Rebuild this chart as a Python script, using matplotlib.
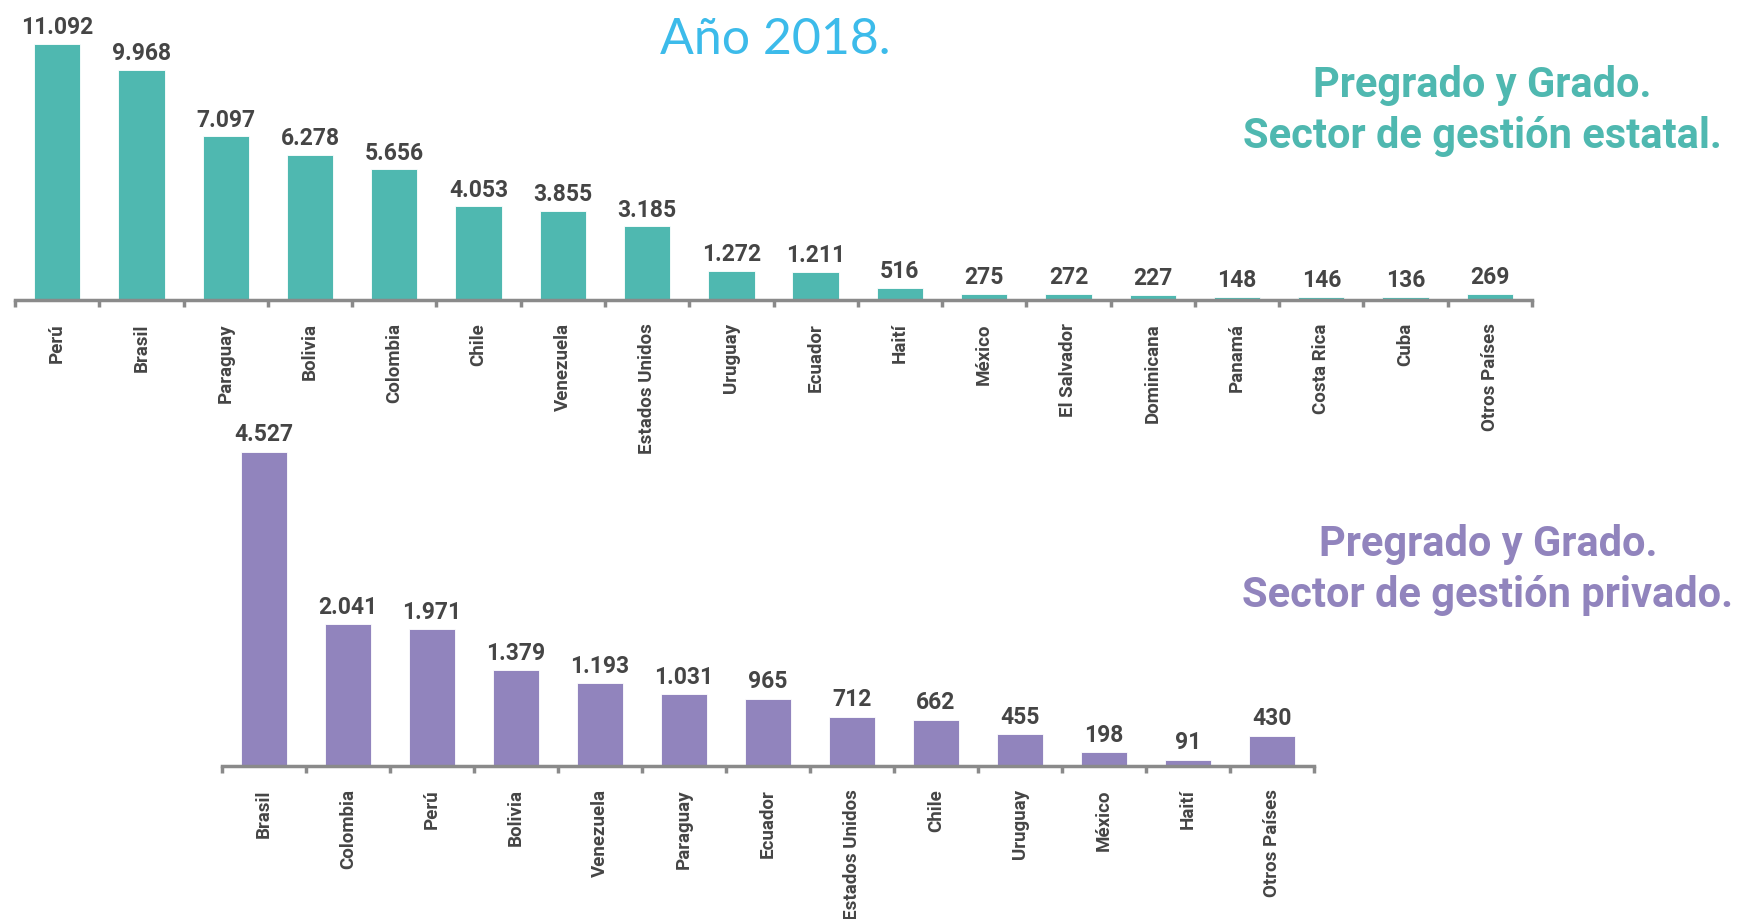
import numpy as np
import matplotlib
matplotlib.use("Agg")
import matplotlib.pyplot as plt

# Datos: estudiantes extranjeros, pregrado y grado, año 2018
estatal_paises = ["Perú", "Brasil", "Paraguay", "Bolivia", "Colombia", "Chile",
                  "Venezuela", "Estados Unidos", "Uruguay", "Ecuador", "Haití",
                  "México", "El Salvador", "Dominicana", "Panamá", "Costa Rica",
                  "Cuba", "Otros Países"]
estatal_valores = [11092, 9968, 7097, 6278, 5656, 4053, 3855, 3185, 1272, 1211,
                   516, 275, 272, 227, 148, 146, 136, 269]

privado_paises = ["Brasil", "Colombia", "Perú", "Bolivia", "Venezuela", "Paraguay",
                  "Ecuador", "Estados Unidos", "Chile", "Uruguay", "México",
                  "Haití", "Otros Países"]
privado_valores = [4527, 2041, 1971, 1379, 1193, 1031, 965, 712, 662, 455, 198,
                   91, 430]

TEAL = "#4fb8b0"
PURPLE = "#9184bd"
BLUE = "#3cbbea"
GRAY = "#8a8a8a"
TXT = "#454545"

plt.rcParams["font.family"] = ["Roboto", "DejaVu Sans"]

W, H = 1737, 920
fig = plt.figure(figsize=(W / 100, H / 100), dpi=100)


def fmt(v):
    return f"{v:,}".replace(",", ".")


def barras(rect, paises, valores, color, ymax):
    ax = fig.add_axes(rect)
    ax.patch.set_alpha(0)
    x = np.arange(len(paises))
    ax.bar(x, valores, width=0.55, color=color, edgecolor="white", linewidth=0.6)
    for xi, v in zip(x, valores):
        ax.text(xi, v + ymax * 0.02, fmt(v), ha="center", va="bottom",
                fontsize=16.5, fontweight="bold", color=TXT, clip_on=False)
    ax.set_xlim(-0.5, len(paises) - 0.5)
    ax.set_ylim(0, ymax)
    for s in ["top", "right", "left"]:
        ax.spines[s].set_visible(False)
    ax.spines["bottom"].set_color(GRAY)
    ax.spines["bottom"].set_linewidth(2.5)
    ax.set_yticks([])
    ax.set_xticks(x)
    ax.set_xticklabels(paises, rotation=90, fontsize=13.5, fontweight="bold",
                       color=TXT, va="top")
    ax.tick_params(axis="x", which="major", length=0, pad=16)
    ax.set_xticks(np.arange(len(paises) + 1) - 0.5, minor=True)
    ax.tick_params(axis="x", which="minor", length=5, width=2.5, color=GRAY)
    return ax


# panel superior (gestión estatal)
barras([15 / W, (H - 301) / H, (1532 - 15) / W, 281 / H],
       estatal_paises, estatal_valores, TEAL, 12175)

# panel inferior (gestión privada)
barras([222 / W, (H - 767) / H, (1314 - 222) / W, 337 / H],
       privado_paises, privado_valores, PURPLE, 4858)

fig.text(775 / W, 1 - 40 / H, "Año 2018.", ha="center", va="center",
         fontsize=36, color=BLUE, family=["Lato", "DejaVu Sans"])

fig.text(1482 / W, 1 - 111 / H, "Pregrado y Grado.\nSector de gestión estatal.",
         ha="center", va="center", fontsize=30, fontweight="bold", color=TEAL,
         linespacing=1.3)
fig.text(1488 / W, 1 - 570 / H, "Pregrado y Grado.\nSector de gestión privado.",
         ha="center", va="center", fontsize=30, fontweight="bold", color=PURPLE,
         linespacing=1.3)

fig.savefig("out.png", dpi=100, facecolor="white")
